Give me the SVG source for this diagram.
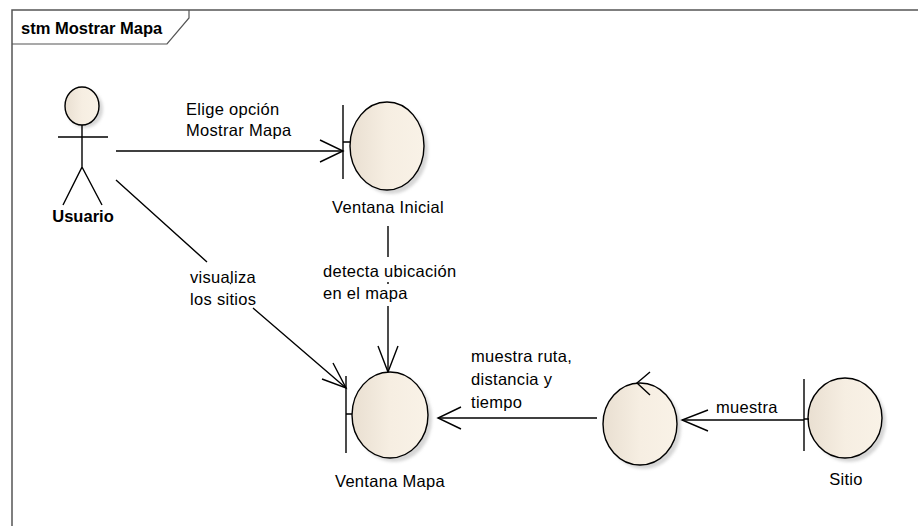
<svg xmlns="http://www.w3.org/2000/svg" width="918" height="526" viewBox="0 0 918 526">
<style>
.t{font-family:"Liberation Sans",Arial,sans-serif;font-size:16.5px;fill:#000;letter-spacing:0.3px}
.b{font-family:"Liberation Sans",Arial,sans-serif;font-size:16.5px;font-weight:bold;fill:#000}
.ln{stroke:#000;stroke-width:1.4;fill:none}
.el{fill:url(#g);stroke:#000;stroke-width:1.4}
.sh{fill:#bbb;opacity:0.6}
</style>
<defs>
<linearGradient id="g" x1="0" y1="0" x2="1" y2="0">
<stop offset="0" stop-color="#e9dfd1"/>
<stop offset="0.5" stop-color="#f6eee2"/>
<stop offset="1" stop-color="#f9f2e7"/>
</linearGradient>
<filter id="blur" x="-20%" y="-20%" width="140%" height="140%"><feGaussianBlur stdDeviation="1.5"/></filter>
</defs>
<rect width="918" height="526" fill="#fff"/>
<g id="frame">
<path d="M12,526 V10 H918" fill="none" stroke="#555" stroke-width="1.5"/>
<path d="M12,44 H167 L189,18 V10" fill="none" stroke="#555" stroke-width="1.2"/>
<text class="b" x="21" y="34">stm Mostrar Mapa</text>
</g>
<g id="connectors">
<path class="ln" d="M116,151 H343"/>
<path class="ln" d="M320,140 L343,151 L320,162"/>
<text class="t" x="186" y="115">Elige opción</text>
<text class="t" x="186" y="136">Mostrar Mapa</text>
<path class="ln" d="M116,180 L207,262 M230,283 L231,284 M253,308 L346,388"/>
<path class="ln" d="M333,363 L346,388 L322,379"/>
<text class="t" x="190" y="283">visualiza</text>
<text class="t" x="190" y="305">los sitios</text>
<path class="ln" d="M388,226 V257 M388,282 V284 M388,306 V372"/>
<path class="ln" d="M378,346 L388,372 L398,346"/>
<text class="t" x="323" y="277">detecta ubicación</text>
<text class="t" x="323" y="299">en el mapa</text>
<path class="ln" d="M597,418 H438"/>
<path class="ln" d="M461,407 L438,418 L461,429"/>
<text class="t" x="471" y="362">muestra ruta,</text>
<text class="t" x="471" y="385">distancia y</text>
<text class="t" x="471" y="408">tiempo</text>
<path class="ln" d="M804,420 H682"/>
<path class="ln" d="M708,410 L682,420 L708,431"/>
<text class="t" x="716" y="413">muestra</text>
</g>
<g id="usuario">
<ellipse class="sh" cx="85" cy="109" rx="18" ry="19" filter="url(#blur)"/>
<ellipse class="el" cx="82" cy="106" rx="17" ry="19"/>
<path class="ln" d="M58,137 H108 M82,125 V167 L63,205 M82,167 L102,205"/>
<text class="b" x="83" y="222" text-anchor="middle">Usuario</text>
</g>
<g id="ventana-inicial">
<ellipse class="sh" cx="391" cy="150" rx="37" ry="44" filter="url(#blur)"/>
<ellipse class="el" cx="387" cy="146" rx="37" ry="44"/>
<path class="ln" d="M343,105 V179 M343,142 H350"/>
<text class="t" x="388" y="213" text-anchor="middle">Ventana Inicial</text>
</g>
<g id="ventana-mapa">
<ellipse class="sh" cx="394" cy="419" rx="38" ry="43" filter="url(#blur)"/>
<ellipse class="el" cx="390" cy="415" rx="38" ry="43"/>
<path class="ln" d="M346,376 V453 M346,414 H352"/>
<text class="t" x="390" y="487" text-anchor="middle">Ventana Mapa</text>
</g>
<g id="control">
<ellipse class="sh" cx="644" cy="428" rx="37" ry="41" filter="url(#blur)"/>
<ellipse class="el" cx="640" cy="424" rx="37" ry="41"/>
<path class="ln" d="M650,372 L637,383 L650,395"/>
</g>
<g id="sitio">
<ellipse class="sh" cx="849" cy="422" rx="37" ry="40" filter="url(#blur)"/>
<ellipse class="el" cx="845" cy="418" rx="37" ry="40"/>
<path class="ln" d="M804,379 V451 M804,419 H809"/>
<text class="t" x="846" y="485" text-anchor="middle">Sitio</text>
</g>
</svg>
